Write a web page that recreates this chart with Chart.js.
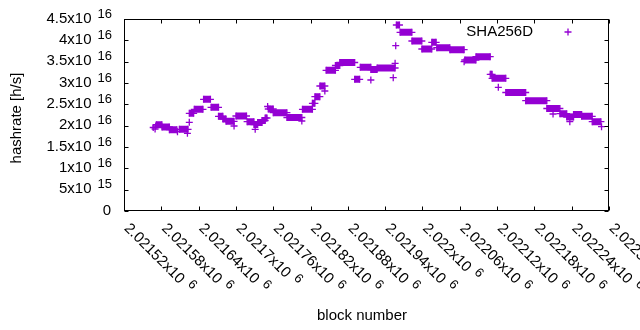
<!DOCTYPE html>
<html><head><meta charset="utf-8">
<script src="https://cdn.jsdelivr.net/npm/chart.js@4.4.1/dist/chart.umd.min.js"></script>
<style>html,body{margin:0;padding:0;background:#fff;}canvas{display:block;}</style>
</head><body>
<canvas id="c" width="640" height="330"></canvas>
<script>
const seriesName = 'SHA256D';
const xTitle = 'block number';
const yTitle = 'hashrate [h/s]';

// plateaus: first block, last block, hashrate (h/s)
const segStart = [2021572,2021581,2021593,2021609,2021625,2021633,2021648,2021660,2021672,2021679,2021684,2021700,2021718,2021729,2021735,2021742,2021747,2021752,2021760,2021782,2021807,2021823,2021827,2021835,2021845,2021860,2021867,2021891,2021900,2021917,2021927,2021958,2021964,2021983,2021999,2022015,2022023,2022044,2022068,2022086,2022109,2022112,2022134,2022166,2022200,2022221,2022232,2022243,2022256,2022273];
const segEnd   = [2021581,2021593,2021605,2021623,2021632,2021647,2021659,2021672,2021679,2021684,2021697,2021717,2021729,2021735,2021742,2021747,2021750,2021760,2021782,2021806,2021823,2021827,2021835,2021843,2021860,2021867,2021891,2021899,2021917,2021927,2021956,2021963,2021983,2021999,2022015,2022022,2022044,2022067,2022086,2022109,2022112,2022134,2022166,2022200,2022221,2022232,2022243,2022256,2022273,2022287];
const segRate  = [2.023e16,1.969e16,1.905e16,1.915e16,2.290e16,2.384e16,2.618e16,2.430e16,2.220e16,2.156e16,2.102e16,2.227e16,2.093e16,2.027e16,2.074e16,2.121e16,2.180e16,2.391e16,2.304e16,2.191e16,2.384e16,2.524e16,2.679e16,2.930e16,3.298e16,3.410e16,3.480e16,3.087e16,3.368e16,3.316e16,3.352e16,4.359e16,4.188e16,3.984e16,3.797e16,3.954e16,3.827e16,3.780e16,3.539e16,3.616e16,3.204e16,3.110e16,2.777e16,2.585e16,2.402e16,2.280e16,2.203e16,2.262e16,2.220e16,2.093e16];

// isolated blocks
const ptBlock = [2021567,2021570,2021571,2021606,2021622,2021625,2021697,2021731,2021751,2021806,2021843,2021917,2021953,2021956,2021957,2022067,2022122,2022210,2022237,2022288];
const ptRate  = [1.957e16,1.922e16,1.992e16,1.859e16,1.821e16,2.079e16,1.992e16,1.915e16,2.449e16,2.109e16,2.8125e16,3.070e16,3.124e16,3.462e16,3.874e16,3.499e16,2.899e16,2.273e16,2.093e16,1.976e16];

const xTickMantissa = ['2.02152','2.02158','2.02164','2.0217','2.02176','2.02182','2.02188','2.02194','2.022','2.02206','2.02212','2.02218','2.02224','2.0223'];
const xTickExponent = ['6','6','6','6','6','6','6','6','6','6','6','6','6','6'];
const yTickMantissa = ['0','5','1','1.5','2','2.5','3','3.5','4','4.5'];
const yTickExponent = ['','15','16','16','16','16','16','16','16','16'];

const xMin = 2021520, xMax = 2022300, xStep = 60;
const yMin = 0, yMax = 4.5e16, yStep = 5e15;

const COLOR = '#9400d3';
const FONT = '"Liberation Sans", Arial, sans-serif';

const segData = [];
segStart.forEach((s, i) => {
  segData.push({x: s, y: segRate[i]}, {x: segEnd[i], y: segRate[i]}, {x: segEnd[i], y: null});
});
const ptData = ptBlock.map((b, i) => ({x: b, y: ptRate[i]}));

function cross(ctx, cx, cy, r) {
  ctx.beginPath();
  ctx.moveTo(cx - r, cy); ctx.lineTo(cx + r, cy);
  ctx.moveTo(cx, cy - r); ctx.lineTo(cx, cy + r);
  ctx.stroke();
}

const axesPlugin = {
  id: 'gnuplotAxes',
  afterDraw(chart) {
    const {ctx, chartArea: a, scales: {x, y}} = chart;
    ctx.save();
    ctx.strokeStyle = '#000';
    ctx.lineWidth = 1;
    const L = Math.round(a.left) + 0.5, R = Math.round(a.right) - 0.5;
    const T = Math.round(a.top) + 0.5, B = Math.round(a.bottom) - 0.5;
    ctx.strokeRect(L, T, R - L, B - T);
    const tl = 4;
    ctx.beginPath();
    xTickMantissa.forEach((m, i) => {
      const px = Math.round(x.getPixelForValue(xMin + i * xStep)) + 0.5;
      ctx.moveTo(px, B); ctx.lineTo(px, B - tl);
      ctx.moveTo(px, T); ctx.lineTo(px, T + tl);
    });
    yTickMantissa.forEach((m, i) => {
      const py = Math.round(y.getPixelForValue(yMin + i * yStep)) + 0.5;
      ctx.moveTo(L, py); ctx.lineTo(L + tl, py);
      ctx.moveTo(R, py); ctx.lineTo(R - tl, py);
    });
    ctx.stroke();

    ctx.fillStyle = '#000';
    // y tick labels
    yTickMantissa.forEach((m, i) => {
      const py = y.getPixelForValue(yMin + i * yStep);
      let right = 112;
      ctx.textAlign = 'right';
      ctx.textBaseline = 'middle';
      if (yTickExponent[i]) {
        ctx.font = '13px ' + FONT;
        ctx.fillText(yTickExponent[i], right, py - 5);
        right -= ctx.measureText(yTickExponent[i]).width + 6;
        ctx.font = '15px ' + FONT;
        ctx.fillText(m + 'x10', right, py - 0.5);
      } else {
        ctx.font = '15px ' + FONT;
        ctx.fillText(m, right - 1, py - 0.5);
      }
    });
    // x tick labels (rotated)
    xTickMantissa.forEach((m, i) => {
      const px = x.getPixelForValue(xMin + i * xStep);
      ctx.save();
      ctx.translate(px + 2.5, 226);
      ctx.rotate(Math.PI / 4);
      ctx.textAlign = 'left';
      ctx.textBaseline = 'middle';
      ctx.font = '15px ' + FONT;
      const main = m + 'x10';
      ctx.fillText(main, 0, 0);
      const w = ctx.measureText(main).width;
      ctx.font = '13px ' + FONT;
      ctx.fillText(xTickExponent[i], w + 6, -5);
      ctx.restore();
    });
    // axis titles
    ctx.font = '15px ' + FONT;
    ctx.textAlign = 'center';
    ctx.textBaseline = 'middle';
    ctx.fillText(xTitle, 362, 316);
    ctx.save();
    ctx.translate(17, 118);
    ctx.rotate(-Math.PI / 2);
    ctx.fillText(yTitle, 0, 0);
    ctx.restore();
    // key
    ctx.textAlign = 'right';
    ctx.fillText(seriesName, 533, 32);
    ctx.strokeStyle = COLOR;
    ctx.lineWidth = 1.3;
    cross(ctx, 568, 32, 3.5);
    ctx.restore();
  }
};

new Chart(document.getElementById('c'), {
  type: 'scatter',
  data: {
    datasets: [
      {label: seriesName, data: segData, showLine: true, spanGaps: false,
       borderColor: COLOR, backgroundColor: COLOR, borderWidth: 7, borderCapStyle: 'butt',
       pointStyle: 'cross', pointRadius: 3.5, pointHoverRadius: 3.5, pointBorderWidth: 1.3,
       pointBorderColor: COLOR, pointBackgroundColor: COLOR},
      {label: seriesName, data: ptData, showLine: false,
       borderColor: COLOR, backgroundColor: COLOR,
       pointStyle: 'cross', pointRadius: 3.5, pointHoverRadius: 3.5, pointBorderWidth: 1.3,
       pointBorderColor: COLOR}
    ]
  },
  options: {
    responsive: false,
    animation: false,
    devicePixelRatio: 1,
    events: [],
    layout: {padding: {left: 124, right: 31, top: 19, bottom: 119}},
    plugins: {legend: {display: false}, tooltip: {enabled: false}},
    scales: {
      x: {type: 'linear', display: false, min: xMin, max: xMax, ticks: {stepSize: xStep}},
      y: {type: 'linear', display: false, min: yMin, max: yMax, ticks: {stepSize: yStep}}
    }
  },
  plugins: [axesPlugin]
});
</script>
</body></html>
